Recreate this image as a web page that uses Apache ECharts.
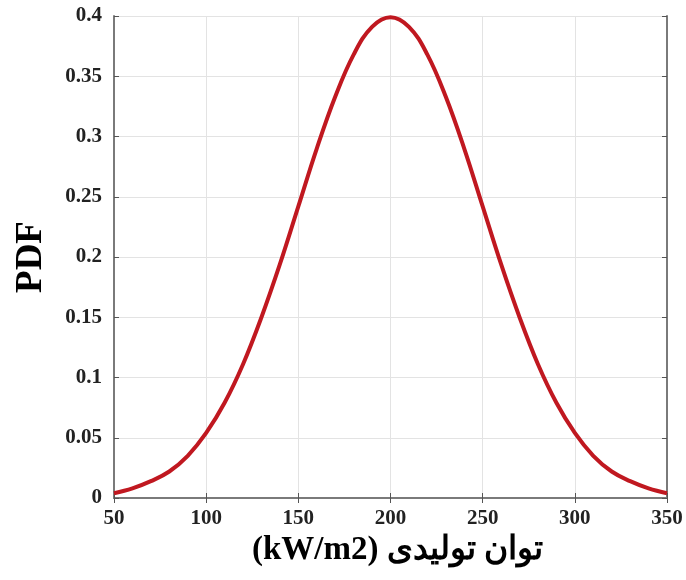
<!DOCTYPE html>
<html>
<head>
<meta charset="utf-8">
<script src="https://cdn.jsdelivr.net/npm/echarts@6/dist/echarts.min.js"></script>
<style>html,body{margin:0;padding:0;background:#fff;}#c{width:686px;height:580px;}</style>
</head>
<body>
<div id="c"></div>
<script>
const xValues = [50,60,70,80,90,100,110,120,130,140,150,160,170,180,190,200,210,220,230,240,250,260,270,280,290,300,310,320,330,340,350];
const pdfValues = [0.004,0.008,0.014,0.022,0.035,0.054,0.079,0.111,0.150,0.194,0.242,0.290,0.333,0.368,0.391,0.399,0.391,0.368,0.333,0.290,0.242,0.194,0.150,0.111,0.079,0.054,0.035,0.022,0.014,0.008,0.004];
const xTitle = "(kW/m2) توان تولیدی";
const yTitle = "PDF";

const chart = echarts.init(document.getElementById('c'), null, {renderer:'canvas'});
const labelFont = {fontFamily:'"Liberation Serif","Times New Roman",serif', fontWeight:'bold', fontSize:21, color:'#222'};
const boxLine = {show:true, lineStyle:{color:'#7a7a7a', width:2}};
chart.setOption({
  animation:false,
  backgroundColor:'#fff',
  grid:{left:114, right:19, top:16, bottom:82},
  xAxis:[{
    type:'value', min:50, max:350, interval:50,
    axisLine:boxLine,
    axisTick:{show:true, inside:true, length:5, lineStyle:{color:'#555'}},
    splitLine:{show:true, lineStyle:{color:'#e3e3e3', width:1}},
    axisLabel:Object.assign({margin:10}, labelFont),
    name:xTitle, nameLocation:'middle', nameGap:33,
    nameTextStyle:{fontFamily:'"Liberation Serif","DejaVu Serif",serif', fontWeight:'bold', fontSize:33, color:'#000', verticalAlign:'top', padding:[0,0,0,14]}
  },{
    type:'value', position:'top', min:50, max:350, interval:50,
    axisLine:boxLine,
    axisTick:{show:true, inside:true, length:5, lineStyle:{color:'#555'}},
    axisLabel:{show:false}, splitLine:{show:false}
  }],
  yAxis:[{
    type:'value', min:0, max:0.4, interval:0.05,
    axisLine:boxLine,
    axisTick:{show:true, inside:true, length:5, lineStyle:{color:'#555'}},
    splitLine:{show:true, lineStyle:{color:'#e3e3e3', width:1}},
    axisLabel:Object.assign({margin:12}, labelFont),
    name:yTitle, nameLocation:'middle', nameGap:64, nameRotate:90,
    nameTextStyle:{fontFamily:'"Liberation Serif","Times New Roman",serif', fontWeight:'bold', fontSize:37, color:'#000'}
  },{
    type:'value', position:'right', min:0, max:0.4, interval:0.05,
    axisLine:boxLine,
    axisTick:{show:true, inside:true, length:5, lineStyle:{color:'#555'}},
    axisLabel:{show:false}, splitLine:{show:false}
  }],
  series:[{
    type:'line', xAxisIndex:0, yAxisIndex:0,
    data:xValues.map((x,i)=>[x,pdfValues[i]]),
    smooth:0.4, showSymbol:false,
    lineStyle:{color:'#c01820', width:4}
  }]
});
</script>
</body>
</html>
